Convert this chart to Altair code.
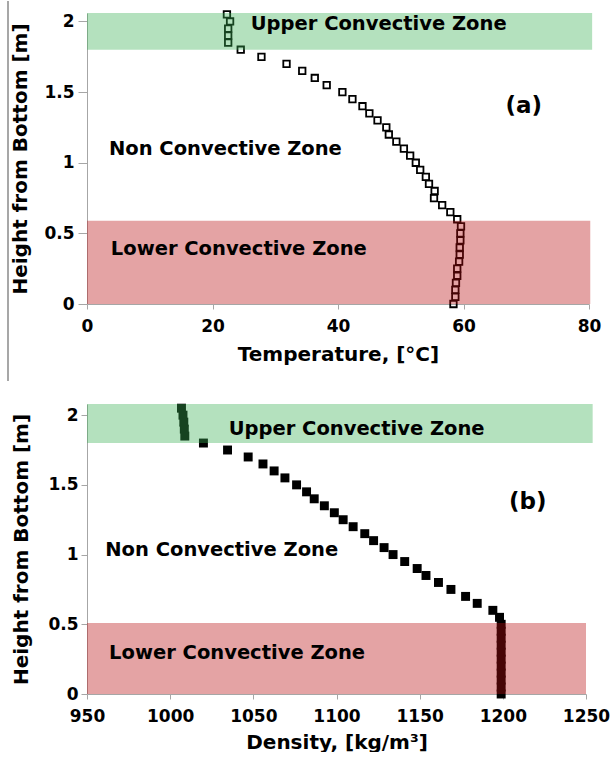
import altair as alt
import pandas as pd

# ---------------- data ----------------
heights = [0.00, 0.05, 0.10, 0.15, 0.20, 0.25, 0.30, 0.35, 0.40, 0.45, 0.50,
           0.55, 0.60, 0.65, 0.70, 0.75, 0.80, 0.85, 0.90, 0.95, 1.00, 1.05,
           1.10, 1.15, 1.20, 1.25, 1.30, 1.35, 1.40, 1.45, 1.50, 1.55, 1.60,
           1.65, 1.70, 1.75, 1.80, 1.85, 1.90, 1.95, 2.00, 2.05]

temperature = [58.4, 58.7, 58.7, 58.8, 59.0, 59.0, 59.3, 59.4, 59.4, 59.5, 59.5,
               59.6, 59.0, 57.9, 56.6, 55.3, 55.4, 54.5, 54.0, 53.1, 52.4, 51.5,
               50.5, 49.3, 48.1, 47.7, 46.3, 45.0, 43.9, 42.3, 40.7, 38.2, 36.3,
               34.3, 31.8, 27.8, 24.5, 22.5, 22.5, 22.5, 22.8, 22.3]

density = [1199.0, 1199.0, 1199.0, 1199.0, 1199.0, 1199.0, 1199.0, 1199.0, 1199.0, 1199.0, 1199.0,
           1198.0, 1194.0, 1184.6, 1177.6, 1168.8, 1161.3, 1153.8, 1148.5, 1141.0, 1134.0, 1128.6,
           1122.3, 1117.0, 1110.0, 1104.0, 1098.7, 1092.7, 1086.6, 1082.0, 1076.0, 1069.0, 1062.5,
           1055.8, 1046.9, 1034.5, 1020.0, 1008.8, 1008.5, 1008.2, 1007.7, 1006.8]

temp_ticks = [0, 20, 40, 60, 80]
dens_ticks = [950, 1000, 1050, 1100, 1150, 1200, 1250]
height_ticks = [0, 0.5, 1, 1.5, 2]

# zone extents: (x start, x end, y start, y end)
zones_a = {"upper": (0, 80.5, 1.80, 2.06), "lower": (0, 80.2, 0.0, 0.59)}
zones_b = {"upper": (950, 1254, 1.80, 2.08), "lower": (950, 1250, 0.0, 0.51)}

zone_labels = ["Upper Convective Zone", "Non Convective Zone", "Lower Convective Zone"]
label_pos_a = {"x": [26.1, 3.5, 3.8], "y": [1.985, 1.10, 0.39]}
label_pos_b = {"x": [1035.2, 961.0, 963.3], "y": [1.90, 1.03, 0.294]}
panel_a = {"label": ["(a)"], "x": [69.6], "y": [1.405]}
panel_b = {"label": ["(b)"], "x": [1215.0], "y": [1.376]}

GREEN = "#3ab054"
RED = "#b80d10"
BAND_OPACITY = 0.38
FONT = "DejaVu Sans"

# ---------------- axes / scales ----------------
xdom_a = [0, 80]
ydom_a = [0, 2.06]
xdom_b = [950, 1250]
ydom_b = [0, 2.08]

xsc_a = alt.Scale(domain=xdom_a, nice=False, zero=False)
ysc_a = alt.Scale(domain=ydom_a, nice=False)
xsc_b = alt.Scale(domain=xdom_b, nice=False, zero=False)
ysc_b = alt.Scale(domain=ydom_b, nice=False)

xax_a = alt.Axis(title="Temperature, [°C]", values=temp_ticks, format="d", labelFlush=False,
                 tickSize=5, labelPadding=9, titlePadding=10, titleFontSize=20)
yax_a = alt.Axis(title="Height from Bottom [m]", values=height_ticks, format="~g",
                 labelFlush=False,
                 tickSize=9, labelPadding=4, titlePadding=13, titleFontSize=20)
xax_b = alt.Axis(title="Density, [kg/m³]", values=dens_ticks, format="d", labelFlush=False,
                 tickSize=5, labelPadding=9, titlePadding=8, titleFontSize=20)
yax_b = alt.Axis(title="Height from Bottom [m]", values=height_ticks, format="~g",
                 labelFlush=False,
                 tickSize=6, labelPadding=3, titlePadding=16, titleFontSize=20)


def band_layer(ext, color, xsc, ysc, xax, yax):
    df = pd.DataFrame({"x0": [ext[0]], "x1": [ext[1]], "y0": [ext[2]], "y1": [ext[3]]})
    return alt.Chart(df).mark_rect(color=color, opacity=BAND_OPACITY, clip=False).encode(
        x=alt.X("x0:Q", scale=xsc, axis=xax),
        x2="x1:Q",
        y=alt.Y("y0:Q", scale=ysc, axis=yax),
        y2="y1:Q",
    )


def text_layers(pos, panel, xsc, ysc, xax, yax):
    df = pd.DataFrame({"label": zone_labels, "x": pos["x"], "y": pos["y"]})
    t = alt.Chart(df).mark_text(font=FONT, fontWeight="bold", fontSize=19.5, align="left",
                                baseline="middle", color="black").encode(
        x=alt.X("x:Q", scale=xsc, axis=xax),
        y=alt.Y("y:Q", scale=ysc, axis=yax),
        text="label:N",
    )
    p = alt.Chart(pd.DataFrame(panel)).mark_text(font=FONT, fontWeight="bold", fontSize=23,
                                                 align="center", baseline="middle",
                                                 color="black").encode(
        x=alt.X("x:Q", scale=xsc, axis=xax),
        y=alt.Y("y:Q", scale=ysc, axis=yax),
        text="label:N",
    )
    return t, p


# ---------------- panel (a) ----------------
df_a = pd.DataFrame({"h": heights, "T": temperature})
pts_a = alt.Chart(df_a).mark_point(shape="square", filled=False, color="black",
                                   size=42, strokeWidth=1.8, opacity=1).encode(
    x=alt.X("T:Q", scale=xsc_a, axis=xax_a),
    y=alt.Y("h:Q", scale=ysc_a, axis=yax_a),
)

edge_line = alt.Chart(pd.DataFrame({"a": [0]})).mark_rule(color="#8a8a8a", strokeWidth=1.5).encode(
    x=alt.value(-79), y=alt.value(-12), y2=alt.value(368)
)

ta, pa = text_layers(label_pos_a, panel_a, xsc_a, ysc_a, xax_a, yax_a)
top = alt.layer(
    pts_a,
    band_layer(zones_a["upper"], GREEN, xsc_a, ysc_a, xax_a, yax_a),
    band_layer(zones_a["lower"], RED, xsc_a, ysc_a, xax_a, yax_a),
    edge_line,
    ta, pa,
).properties(width=502, height=291)

# ---------------- panel (b) ----------------
df_b = pd.DataFrame({"h": heights, "rho": density})
pts_b = alt.Chart(df_b).mark_point(shape="square", filled=True, color="black",
                                   size=80, opacity=1).encode(
    x=alt.X("rho:Q", scale=xsc_b, axis=xax_b),
    y=alt.Y("h:Q", scale=ysc_b, axis=yax_b),
)

tb, pb = text_layers(label_pos_b, panel_b, xsc_b, ysc_b, xax_b, yax_b)
bottom = alt.layer(
    pts_b,
    band_layer(zones_b["upper"], GREEN, xsc_b, ysc_b, xax_b, yax_b),
    band_layer(zones_b["lower"], RED, xsc_b, ysc_b, xax_b, yax_b),
    tb, pb,
).properties(width=499, height=290)

chart = alt.vconcat(top, bottom, spacing=21).resolve_scale(
    x="independent", y="independent"
).properties(
    padding={"left": 7, "top": 0, "right": 0, "bottom": 0},
    background="white",
).configure_view(stroke=None).configure_axis(
    grid=False,
    labelFont=FONT, labelFontSize=17, labelFontWeight="bold", labelColor="black",
    titleFont=FONT, titleFontWeight="bold", titleColor="black",
    domainColor="#a6a6a6", tickColor="#a6a6a6", domainWidth=1, tickWidth=1,
)

chart.save("out.html", embed_options={"renderer": "svg", "actions": False})
